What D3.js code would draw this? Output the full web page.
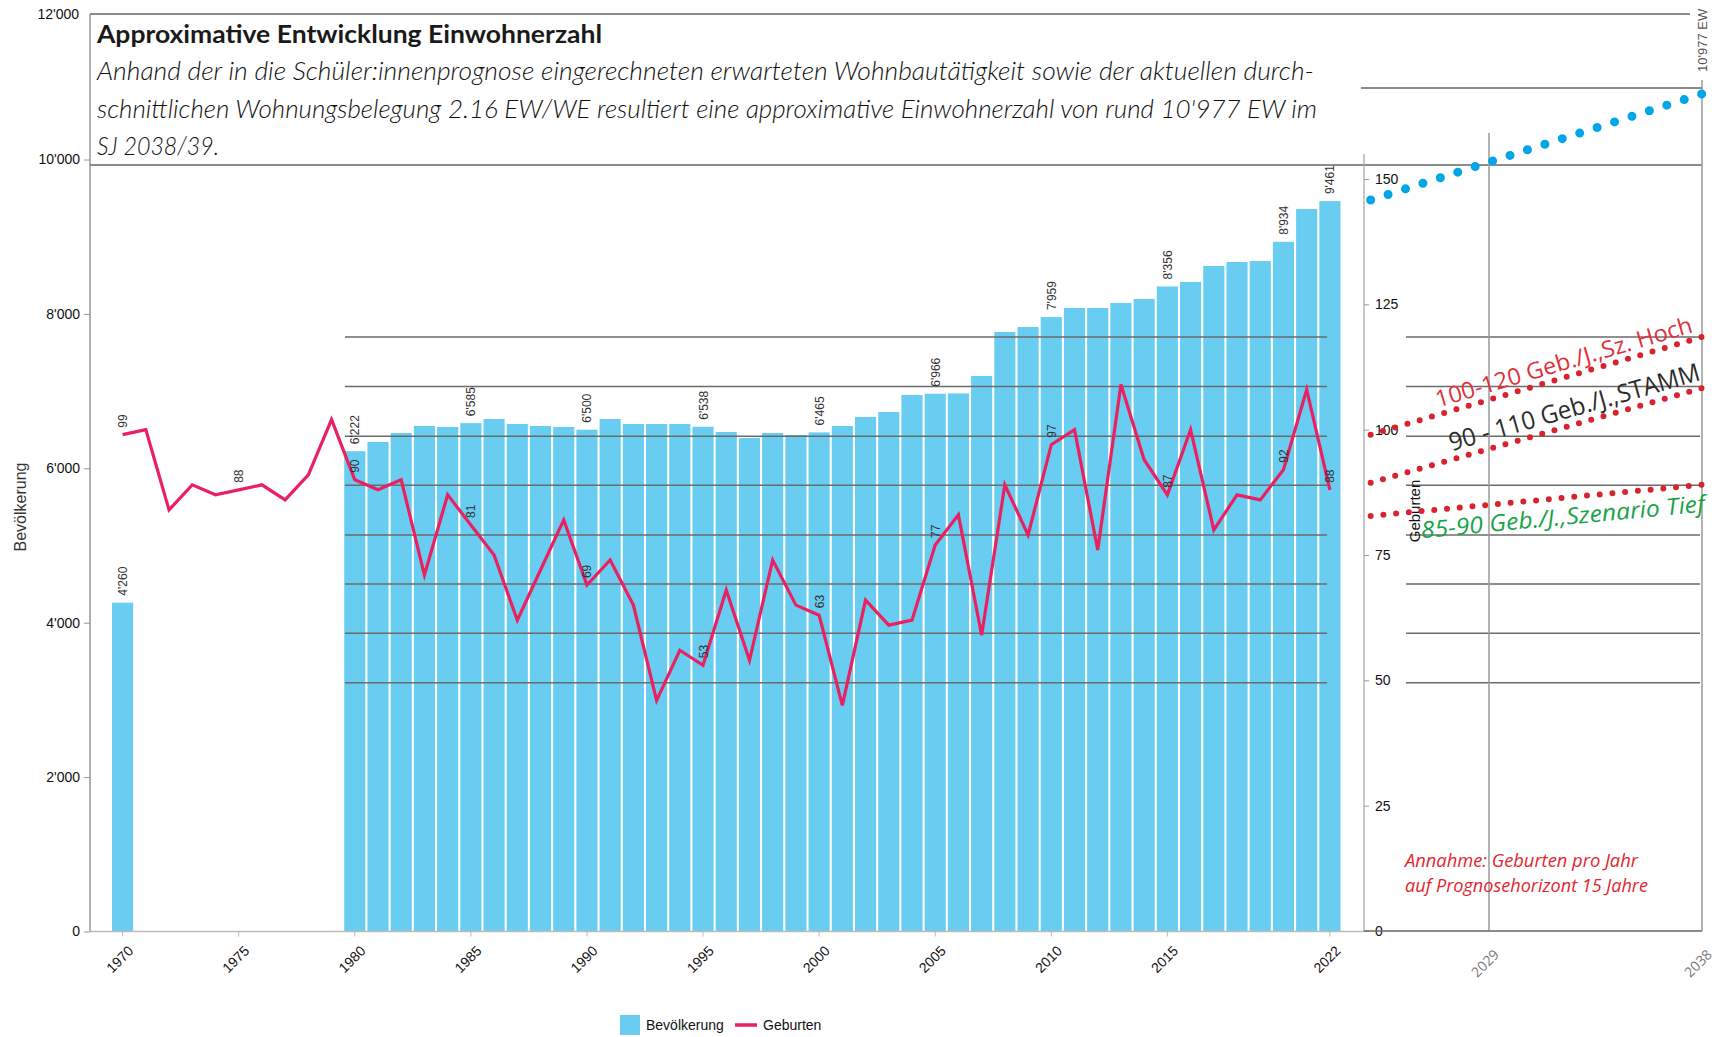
<!DOCTYPE html>
<html lang="de">
<head>
  <meta charset="UTF-8">
  <title>Einwohnerzahl</title>
  <script src="https://d3js.org/d3.v7.min.js"></script>
  <style>
    body {
      margin: 0;
      padding: 0;
      background: #fff;
    }
    #chart {
      width: 1731px;
      height: 1037px;
    }
    text {
      font-family: "Liberation Sans", Arial, sans-serif;
    }
  </style>
</head>
<body>
  <div id="chart"></div>
</body>
<script>
  // Bevölkerung (Balken)
  const popYears = [1970, 1980, 1981, 1982, 1983, 1984, 1985, 1986, 1987, 1988, 1989, 1990,
    1991, 1992, 1993, 1994, 1995, 1996, 1997, 1998, 1999, 2000, 2001, 2002, 2003, 2004, 2005,
    2006, 2007, 2008, 2009, 2010, 2011, 2012, 2013, 2014, 2015, 2016, 2017, 2018, 2019, 2020,
    2021, 2022]
  const popValues = [4260, 6222, 6341, 6457, 6548, 6535, 6585, 6638, 6574, 6548, 6535, 6500,
    6638, 6574, 6574, 6574, 6538, 6470, 6392, 6457, 6431, 6465, 6548, 6665, 6729, 6950, 6966,
    6970, 7195, 7766, 7830, 7959, 8077, 8077, 8142, 8194, 8356, 8414, 8620, 8672, 8685, 8934,
    9358, 9461]
  const popLabelYears = [1970, 1980, 1985, 1990, 1995, 2000, 2005, 2010, 2015, 2020, 2022]

  // Geburten (Linie)
  const birthYears = d3.range(1970, 2023)
  const births = [99, 100, 84, 89, 87, 88, 89, 86, 91, 102,
    90, 88, 90, 71, 87, 81, 75, 62, 72, 82,
    69, 74, 65, 46, 56, 53, 68, 54, 74, 65,
    63, 45, 66, 61, 62, 77, 83, 59, 89, 79,
    97, 100, 76, 109, 94, 87, 100, 80, 87, 86,
    92, 108, 88]
  const birthLabelYears = [1970, 1975, 1980, 1985, 1990, 1995, 2000, 2005, 2010, 2015, 2020, 2022]

  // Achsen
  const xTicks = [1970, 1975, 1980, 1985, 1990, 1995, 2000, 2005, 2010, 2015, 2022]
  const popTicks = [0, 2000, 4000, 6000, 8000, 10000]
  const birthTicks = [0, 25, 50, 75, 100, 125, 150]
  const birthGrid = [49.5, 59.4, 69.2, 79, 88.9, 98.7, 108.6, 118.5]

  // Prognose
  const forecastTicks = [2029, 2038]
  const forecastYears = [2024, 2038]
  const popForecast = [9475, 10850]
  const scenHoch = [99, 118.5]
  const scenStamm = [89.4, 108.3]
  const scenTief = [82.8, 89]

  const title = 'Approximative Entwicklung Einwohnerzahl'
  const subtitle = [
    'Anhand der in die Schüler:innenprognose eingerechneten erwarteten Wohnbautätigkeit sowie der aktuellen durch-',
    'schnittlichen Wohnungsbelegung 2.16 EW/WE resultiert eine approximative Einwohnerzahl von rund 10\'977 EW im',
    'SJ 2038/39.'
  ]

  const fmt = d3.formatLocale({decimal: '.', thousands: "'", grouping: [3], currency: ['', '']}).format(',')

  const width = 1731, height = 1037
  const svg = d3.select('#chart')
    .append('svg')
    .attr('width', width)
    .attr('height', height)

  const x = d3.scaleBand().domain(birthYears).range([111, 1341.5]).paddingInner(0.09).paddingOuter(0.045)
  const cx = d => x(d) + x.bandwidth() / 2
  const xF = d3.scaleLinear().domain([2029, 2038]).range([1489, 1702])
  const yPop = d3.scaleLinear().domain([0, 10000]).range([931.5, 159.5])
  const yBirth = d3.scaleLinear().domain([0, 150]).range([931, 179])

  const popData = popYears.map((y, i) => ({year: y, v: popValues[i]}))
  const birthData = birthYears.map((y, i) => ({year: y, v: births[i]}))

  // Rahmenlinien
  const frame = svg.append('g').attr('stroke', '#666').attr('stroke-width', 1.3)
  frame.append('line').attr('x1', 90).attr('x2', 1690).attr('y1', 14).attr('y2', 14)
  frame.append('line').attr('x1', 90).attr('x2', 1702).attr('y1', 165).attr('y2', 165)
  frame.append('line').attr('x1', 1361).attr('x2', 1702).attr('y1', 88).attr('y2', 88)

  // Titel
  svg.append('text')
    .attr('x', 97).attr('y', 43)
    .attr('textLength', 505).attr('lengthAdjust', 'spacingAndGlyphs')
    .style('font-family', 'Lato, "Open Sans", sans-serif')
    .style('font-weight', 700).style('font-size', '25px').attr('fill', '#1a1a1a')
    .text(title)
  const subLen = [1217, 1220, 122]
  svg.append('g')
    .selectAll('text')
    .data(subtitle)
    .join('text')
    .attr('x', 97)
    .attr('y', (d, i) => 80 + i * 37.5)
    .attr('textLength', (d, i) => subLen[i]).attr('lengthAdjust', 'spacingAndGlyphs')
    .style('font-family', 'Lato, "Open Sans", sans-serif')
    .style('font-weight', 300).style('font-style', 'italic').style('font-size', '25px')
    .attr('fill', '#111')
    .text(d => d)

  // Balken
  svg.append('g')
    .selectAll('rect')
    .data(popData)
    .join('rect')
    .attr('x', d => x(d.year))
    .attr('width', x.bandwidth())
    .attr('y', d => yPop(d.v))
    .attr('height', d => yPop(0) - yPop(d.v))
    .attr('fill', '#69cdf1')

  // Hilfslinien Geburten
  const grid = svg.append('g').attr('stroke', '#6b6b6b').attr('stroke-width', 1.5)
  grid.selectAll('line.m')
    .data(birthGrid)
    .join('line')
    .attr('class', 'm')
    .attr('x1', 345).attr('x2', 1327)
    .attr('y1', d => yBirth(d)).attr('y2', d => yBirth(d))
  grid.selectAll('line.f')
    .data(birthGrid)
    .join('line')
    .attr('class', 'f')
    .attr('x1', 1406).attr('x2', 1700)
    .attr('y1', d => yBirth(d)).attr('y2', d => yBirth(d))

  // vertikale Linien Prognose
  svg.append('g')
    .selectAll('line')
    .data(forecastTicks)
    .join('line')
    .attr('x1', d => xF(d)).attr('x2', d => xF(d))
    .attr('y1', (d, i) => i === 0 ? 133 : 80).attr('y2', 931)
    .attr('stroke', '#9a9a9a').attr('stroke-width', 1.5)

  // linke Achse
  const axL = svg.append('g')
    .attr('transform', 'translate(90,0)')
    .call(d3.axisLeft(yPop).tickValues(popTicks).tickFormat(fmt).tickSize(6))
  axL.select('.domain').remove()
  axL.selectAll('line').attr('stroke', '#999')
  axL.selectAll('text').attr('x', -10).style('font-size', '14px').attr('fill', '#111')
  svg.append('line').attr('x1', 90).attr('x2', 90).attr('y1', 14).attr('y2', 931.5)
    .attr('stroke', '#888').attr('stroke-width', 1.3)
  svg.append('text').attr('x', 79).attr('y', 14).attr('dy', '0.35em')
    .attr('text-anchor', 'end').style('font-size', '14px').attr('fill', '#111')
    .text(fmt(12000))
  svg.append('text')
    .attr('transform', 'translate(26,507) rotate(-90)')
    .attr('text-anchor', 'middle')
    .style('font-size', '16px').attr('fill', '#333')
    .text('Bevölkerung')

  // rechte Achse
  const axR = svg.append('g')
    .attr('transform', 'translate(1364,0)')
    .call(d3.axisRight(yBirth).tickValues(birthTicks).tickSize(5))
  axR.select('.domain').remove()
  axR.selectAll('line').attr('stroke', '#999')
  axR.selectAll('text').attr('x', 11).style('font-size', '14px').attr('fill', '#111')
  svg.append('line').attr('x1', 1364).attr('x2', 1364).attr('y1', 154).attr('y2', 931)
    .attr('stroke', '#aaa').attr('stroke-width', 1.3)

  // untere Achse
  const axB = svg.append('g')
    .attr('transform', 'translate(0,931.5)')
    .call(d3.axisBottom(x).tickValues(xTicks).tickSize(5))
  axB.select('.domain').remove()
  axB.selectAll('line').attr('stroke', '#bbb')
  axB.selectAll('text')
    .attr('transform', 'rotate(-45)')
    .attr('text-anchor', 'end')
    .attr('x', -6).attr('y', 22.5).attr('dy', 0)
    .style('font-size', '14px').attr('fill', '#111')
  svg.append('line').attr('x1', 90).attr('x2', 1364).attr('y1', 931.5).attr('y2', 931.5)
    .attr('stroke', '#bbb').attr('stroke-width', 1.3)

  const axF = svg.append('g')
    .attr('transform', 'translate(0,931.5)')
    .call(d3.axisBottom(xF).tickValues(forecastTicks).tickFormat(d => d).tickSize(0))
  axF.select('.domain').remove()
  axF.selectAll('text')
    .attr('transform', 'rotate(-45)')
    .attr('text-anchor', 'end')
    .attr('x', -9.6).attr('y', 24.4).attr('dy', 0)
    .style('font-family', '"Open Sans", sans-serif')
    .style('font-size', '14px').attr('fill', '#777')
  svg.append('line').attr('x1', 1364).attr('x2', 1702).attr('y1', 931).attr('y2', 931)
    .attr('stroke', '#666').attr('stroke-width', 1.6)

  svg.append('text')
    .attr('transform', 'translate(1420,511) rotate(-90)')
    .attr('text-anchor', 'middle')
    .style('font-size', '15px').attr('fill', '#111')
    .text('Geburten')

  // Geburten-Linie
  const line = d3.line().x(d => cx(d.year)).y(d => yBirth(d.v))
  svg.append('path')
    .datum(birthData)
    .attr('d', line)
    .attr('fill', 'none')
    .attr('stroke', '#ea2160')
    .attr('stroke-width', 3.2)

  // Datenbeschriftungen
  svg.append('g')
    .selectAll('text')
    .data(popData.filter(d => popLabelYears.includes(d.year)))
    .join('text')
    .attr('transform', d => `translate(${cx(d.year) + 4.5},${yPop(d.v) - 7}) rotate(-90)`)
    .style('font-size', '12px').attr('fill', '#333')
    .text(d => fmt(d.v))

  svg.append('g')
    .selectAll('text')
    .data(birthData.filter(d => birthLabelYears.includes(d.year)))
    .join('text')
    .attr('transform', d => `translate(${cx(d.year) + 4.5},${yBirth(d.v) - 7}) rotate(-90)`)
    .style('font-size', '12px').attr('fill', '#333')
    .text(d => d.v)

  // gepunktete Linie: Punkte auf Anfang und Ende
  function dotted(points, color, size, gap) {
    const p = svg.append('path')
      .attr('d', d3.line()(points))
      .attr('fill', 'none')
      .attr('stroke', color)
      .attr('stroke-width', size)
      .attr('stroke-linecap', 'round')
    const len = p.node().getTotalLength()
    p.attr('stroke-dasharray', `0 ${len / Math.round(len / gap) - 0.02}`)
    return p
  }

  // Prognose Bevölkerung
  dotted(forecastYears.map((y, i) => [xF(y), yPop(popForecast[i])]), '#00a6e6', 9, 18.5)

  svg.append('text')
    .attr('transform', `translate(${xF(2038) + 5},72) rotate(-90)`)
    .style('font-size', '13px').attr('fill', '#555')
    .text(fmt(10977) + ' EW')

  // Szenarien Geburten
  const scen = [
    {vals: scenHoch, label: '100-120 Geb./J.,Sz. Hoch', color: '#e0303a', size: 23, italic: false, at: 0.209, dy: -7, len: 267},
    {vals: scenStamm, label: '90 - 110 Geb./J.,STAMM', color: '#2b2b2b', size: 25, italic: false, at: 0.251, dy: -8, len: 260},
    {vals: scenTief, label: '85-90 Geb./J.,Szenario Tief', color: '#1aa34a', size: 23, italic: true, at: 0.146, dy: 27, len: 285}
  ]
  scen.forEach(s => {
    const p = forecastYears.map((y, i) => [xF(y), yBirth(s.vals[i])])
    dotted(p, '#d8232f', 6, 12.7)
    const ang = Math.atan2(p[1][1] - p[0][1], p[1][0] - p[0][0]) * 180 / Math.PI
    const lx = p[0][0] + (p[1][0] - p[0][0]) * s.at
    const ly = p[0][1] + (p[1][1] - p[0][1]) * s.at
    svg.append('text')
      .attr('transform', `translate(${lx},${ly}) rotate(${ang})`)
      .attr('y', s.dy)
      .attr('textLength', s.len).attr('lengthAdjust', 'spacingAndGlyphs')
      .style('font-family', '"Open Sans", sans-serif')
      .style('font-size', s.size + 'px')
      .style('font-style', s.italic ? 'italic' : 'normal')
      .attr('fill', s.color)
      .text(s.label)
  })

  // Annahme
  const note = ['Annahme: Geburten pro Jahr', 'auf Prognosehorizont 15 Jahre']
  const noteLen = [233, 243]
  svg.append('g')
    .selectAll('text')
    .data(note)
    .join('text')
    .attr('x', 1405)
    .attr('y', (d, i) => 867 + i * 25)
    .attr('textLength', (d, i) => noteLen[i]).attr('lengthAdjust', 'spacingAndGlyphs')
    .style('font-family', '"Open Sans", sans-serif')
    .style('font-style', 'italic').style('font-size', '18px')
    .attr('fill', '#e3262f')
    .text(d => d)

  // Legende
  const leg = svg.append('g').attr('transform', 'translate(620,1015)')
  leg.append('rect').attr('width', 20).attr('height', 20).attr('fill', '#69cdf1')
  leg.append('text').attr('x', 26).attr('y', 15).style('font-size', '14px').attr('fill', '#111').text('Bevölkerung')
  leg.append('line').attr('x1', 115).attr('x2', 137).attr('y1', 10).attr('y2', 10)
    .attr('stroke', '#ea2160').attr('stroke-width', 3.5)
  leg.append('text').attr('x', 143).attr('y', 15).style('font-size', '14px').attr('fill', '#111').text('Geburten')
</script>
</html>
